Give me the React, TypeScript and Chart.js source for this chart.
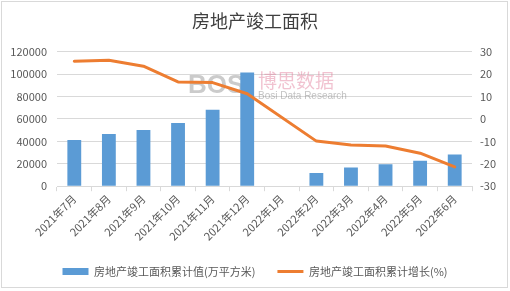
import React, { useEffect, useRef } from 'react';
import { Chart, registerables } from 'chart.js';

Chart.register(...registerables);

const titleText = '房地产竣工面积';
const barLabel = '房地产竣工面积累计值(万平方米)';
const lineLabel = '房地产竣工面积累计增长(%)';

const categories = [
  '2021年7月', '2021年8月', '2021年9月', '2021年10月', '2021年11月', '2021年12月',
  '2022年1月', '2022年2月', '2022年3月', '2022年4月', '2022年5月', '2022年6月',
];
const completedArea = [41100, 46600, 50200, 56400, 68150, 101400, null, 11870, 16700, 19600, 22600, 28200];
const completedGrowth = [25.7, 26.1, 23.5, 16.5, 16.2, 11.2, null, -9.9, -11.6, -12.1, -15.3, -21.4];

const leftMin = 0;
const leftMax = 120000;
const leftStep = 20000;
const rightMin = -30;
const rightMax = 30;
const rightStep = 10;

const BLUE = '#5b9bd5';
const ORANGE = '#ed7d31';
const TEXT = '#595959';
const GRID = '#d9d9d9';
const FONT = '"Noto Sans CJK SC", "Noto Sans", sans-serif';

export default function App() {
  const ref = useRef<HTMLCanvasElement>(null);

  useEffect(() => {
    if (!ref.current) return;
    const watermark = {
      id: 'watermark',
      beforeDatasetsDraw(chart: any) {
        const ctx = chart.ctx;
        ctx.save();
        ctx.textBaseline = 'alphabetic';
        ctx.textAlign = 'left';
        ctx.font = 'bold 26px "Liberation Sans", sans-serif';
        ctx.fillStyle = 'rgba(140,140,140,0.45)';
        ctx.fillText('BOSI', 188, 93);
        ctx.font = '19px "Noto Sans CJK SC", sans-serif';
        ctx.fillStyle = 'rgba(225,120,150,0.45)';
        ctx.fillText('博思数据', 258, 88);
        ctx.font = '10px "Liberation Sans", sans-serif';
        ctx.fillStyle = 'rgba(120,120,120,0.45)';
        ctx.fillText('Bosi Data Research', 258, 99);
        ctx.restore();
      },
    };
    const frame = {
      id: 'frame',
      afterDraw(chart: any) {
        const ctx = chart.ctx;
        ctx.save();
        ctx.strokeStyle = GRID;
        ctx.lineWidth = 1;
        ctx.strokeRect(1.5, 1.5, 506, 286);
        ctx.restore();
      },
    };

    const chart = new Chart(ref.current, {
      type: 'bar',
      data: {
        labels: categories,
        datasets: [
          {
            type: 'bar',
            label: barLabel,
            data: completedArea,
            backgroundColor: BLUE,
            borderWidth: 0,
            yAxisID: 'y',
            barPercentage: 0.4,
            categoryPercentage: 1,
            order: 2,
          } as any,
          {
            type: 'line',
            label: lineLabel,
            data: completedGrowth,
            borderColor: ORANGE,
            backgroundColor: ORANGE,
            borderWidth: 3,
            pointRadius: 0,
            tension: 0,
            spanGaps: true,
            borderJoinStyle: 'round',
            borderCapStyle: 'round',
            yAxisID: 'y1',
            order: 1,
          } as any,
        ],
      },
      options: {
        responsive: false,
        animation: false,
        layout: { padding: { left: 0, right: 0, top: 0, bottom: 4 } },
        font: { family: FONT },
        plugins: {
          title: {
            display: true,
            text: titleText,
            color: '#404040',
            font: { family: FONT, size: 18, weight: 'normal' },
            padding: { top: 10, bottom: 20 },
          },
          legend: {
            position: 'bottom',
            labels: {
              font: { family: FONT, size: 11 },
              color: TEXT,
              boxWidth: 26,
              boxHeight: 7,
              usePointStyle: true,
              pointStyleWidth: 26,
              padding: 22,
              generateLabels: () => [
                { text: barLabel, fillStyle: BLUE, strokeStyle: BLUE, lineWidth: 0, pointStyle: 'rect', datasetIndex: 0, hidden: false, fontColor: TEXT },
                { text: lineLabel, fillStyle: ORANGE, strokeStyle: ORANGE, lineWidth: 3, pointStyle: 'line', datasetIndex: 1, hidden: false, fontColor: TEXT },
              ] as any,
            },
          },
          tooltip: { enabled: false },
        },
        scales: {
          x: {
            offset: true,
            grid: { display: true, drawOnChartArea: false, drawTicks: true, tickLength: 5, color: GRID, offset: true },
            border: { display: true, color: GRID },
            ticks: { maxRotation: 45, minRotation: 45, autoSkip: false, color: TEXT, font: { family: FONT, size: 11 }, padding: 1 },
          },
          y: {
            position: 'left',
            min: leftMin,
            max: leftMax,
            ticks: { stepSize: leftStep, padding: 10, color: TEXT, font: { family: FONT, size: 11 }, callback: (v: any) => String(v) },
            grid: { color: GRID, drawTicks: false },
            border: { display: false },
            afterFit: (s: any) => { s.width = 57; },
          },
          y1: {
            position: 'right',
            min: rightMin,
            max: rightMax,
            ticks: { stepSize: rightStep, padding: 8, color: TEXT, font: { family: FONT, size: 11 }, callback: (v: any) => String(v) },
            grid: { drawOnChartArea: false, drawTicks: false },
            border: { display: false },
            afterFit: (s: any) => { s.width = 38; },
          },
        },
      } as any,
      plugins: [watermark, frame],
    });
    return () => chart.destroy();
  }, []);

  return (
    <div style={{ position: 'absolute', left: 0, top: 0, width: 510, height: 291, background: '#fff' }}>
      <canvas ref={ref} width={510} height={291} style={{ display: 'block' }} />
    </div>
  );
}
